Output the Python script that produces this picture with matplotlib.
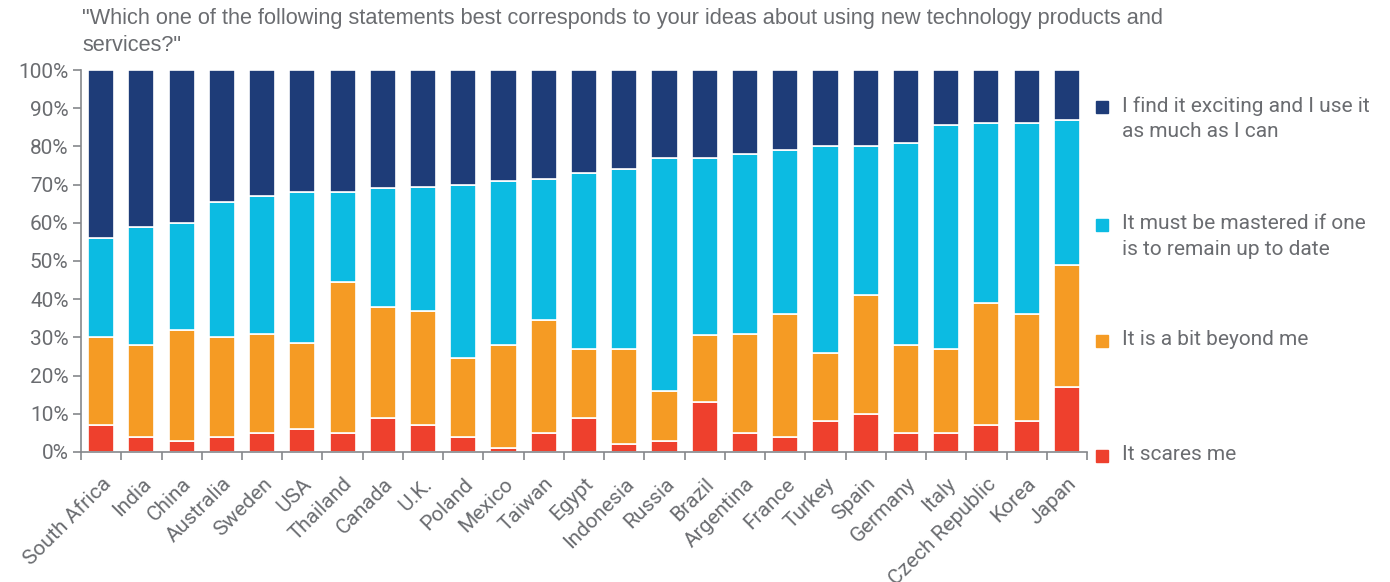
import numpy as np
import matplotlib
matplotlib.use("Agg")
from matplotlib import pyplot as plt
from matplotlib.patches import Rectangle

countries = ["South Africa", "India", "China", "Australia", "Sweden", "USA",
             "Thailand", "Canada", "U.K.", "Poland", "Mexico", "Taiwan",
             "Egypt", "Indonesia", "Russia", "Brazil", "Argentina", "France",
             "Turkey", "Spain", "Germany", "Italy", "Czech Republic", "Korea",
             "Japan"]

# share of answers per country, in percent (bottom to top of each bar)
scares_me = [7, 4, 3, 4, 5, 6, 5, 9, 7, 4, 1, 5, 9, 2, 3, 13, 5, 4, 8, 10,
             5, 5, 7, 8, 17]
beyond_me = [23, 24, 29, 26, 26, 22.5, 39.5, 29, 30, 20.5, 27, 29.5, 18, 25,
             13, 17.5, 26, 32, 18, 31, 23, 22, 32, 28, 32]
must_master = [26, 31, 28, 35.5, 36, 39.5, 23.5, 31, 32.5, 45.5, 43, 37, 46,
               47, 61, 46.5, 47, 43, 54, 39, 53, 58.5, 47, 50, 38]
exciting = [44, 41, 40, 34.5, 33, 32, 32, 31, 30.5, 30, 29, 28.5, 27, 26, 23,
            23, 22, 21, 20, 20, 19, 14.5, 14, 14, 13]

labels = ["It scares me", "It is a bit beyond me",
          "It must be mastered if one\nis to remain up to date",
          "I find it exciting and I use it\nas much as I can"]
colors = ["#ee402d", "#f59b24", "#0cbbe2", "#1e3c78"]

title = ('"Which one of the following statements best corresponds to your ideas about using new technology products and\n'
         'services?"')

grey = "#6a6c70"
axis_grey = "#85878b"
plt.rcParams['font.family'] = ['Roboto', 'DejaVu Sans']

fig = plt.figure(figsize=(13.9, 5.82), dpi=100)
ax = fig.add_axes([0.0583, 0.2234, 0.7237, 0.6563])

x = np.arange(len(countries))
series = [scares_me, beyond_me, must_master, exciting]
bottom = np.zeros(len(countries))
for vals, col in zip(series, colors):
    vals = np.array(vals, dtype=float)
    ax.bar(x, vals, bottom=bottom, width=0.65, color=col,
           edgecolor="white", linewidth=1.2)
    bottom += vals

ax.set_xlim(-0.5, len(countries) - 0.5)
ax.set_ylim(0, 100)
ax.set_yticks(np.arange(0, 101, 10))
ax.set_yticklabels([f"{v}%" for v in range(0, 101, 10)])
ax.set_xticks(x)
ax.set_xticklabels(countries, rotation=45, ha="right", rotation_mode="anchor")
ax.set_xticks(np.arange(-0.5, len(countries), 1), minor=True)
ax.tick_params(axis="x", which="major", length=0, pad=16, labelsize=15,
               labelcolor=grey)
ax.tick_params(axis="x", which="minor", length=6, color=axis_grey, width=1.2)
ax.tick_params(axis="y", length=6, color=axis_grey, width=1.2, labelsize=15,
               labelcolor=grey, pad=3)

for s in ["top", "right"]:
    ax.spines[s].set_visible(False)
for s in ["left", "bottom"]:
    ax.spines[s].set_color(axis_grey)
    ax.spines[s].set_linewidth(1.2)

fig.text(82 / 1390, 1 - 8 / 582, title, ha="left", va="top",
         fontsize=15.7, color=grey, linespacing=1.35,
         family=['Liberation Sans Narrow', 'Liberation Sans', 'DejaVu Sans'])

# legend, top entry first
legend_y = [107, 225, 341, 456]
for lab, col, yp in zip(labels[::-1], colors[::-1], legend_y):
    fig.patches.append(Rectangle((1096 / 1390, 1 - (yp + 6) / 582),
                                 12 / 1390, 12 / 582,
                                 transform=fig.transFigure, color=col))
    fig.text(1122 / 1390, 1 - (yp - 11) / 582, lab, ha="left", va="top",
             fontsize=15, color=grey, linespacing=1.45)

fig.savefig("out.png", dpi=100)
